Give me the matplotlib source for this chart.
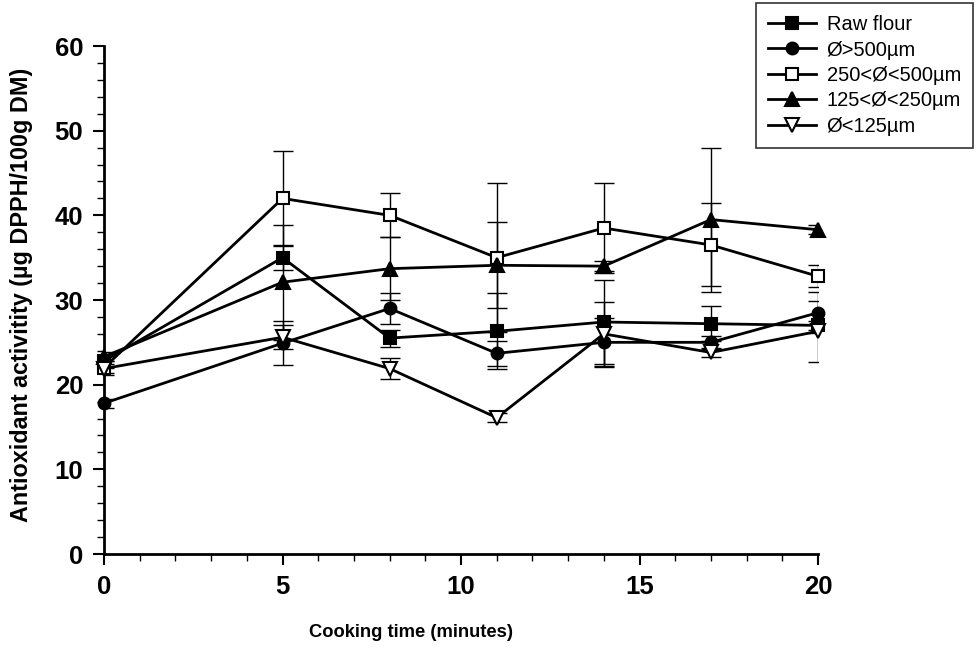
import numpy as np
import matplotlib
matplotlib.use('Agg')
import matplotlib.pyplot as plt
from matplotlib.ticker import MultipleLocator

plt.rcParams['font.family'] = ['Liberation Sans', 'DejaVu Sans']

# Cooking time (minutes)
time = [0, 5, 8, 11, 14, 17, 20]

# Antioxidant activity means and error bars per fraction
raw_flour = [22.8, 35.0, 25.5, 26.3, 27.4, 27.2, 27.0]
raw_flour_err = [0.8, 1.5, 1.0, 4.5, 5.0, 2.1, 0.5]

over_500 = [17.8, 24.9, 29.0, 23.7, 25.0, 25.0, 28.5]
over_500_err = [0.5, 2.6, 1.8, 1.5, 2.9, 0.8, 2.4]

r250_500 = [22.0, 42.0, 40.0, 35.0, 38.5, 36.5, 32.8]
r250_500_err = [0.8, 5.6, 2.6, 8.8, 5.3, 4.9, 1.3]

r125_250 = [23.3, 32.1, 33.7, 34.1, 34.0, 39.5, 38.3]
r125_250_err = [0.5, 6.8, 3.7, 5.1, 0.6, 8.5, 0.5]

under_125 = [21.9, 25.6, 21.9, 16.1, 26.0, 23.8, 26.3]
under_125_err = [0.5, 1.4, 1.2, 0.5, 3.8, 0.5, 3.6]

series = [
    (raw_flour, raw_flour_err, 's', 'black', 'Raw flour'),
    (over_500, over_500_err, 'o', 'black', 'Ø>500µm'),
    (r250_500, r250_500_err, 's', 'white', '250<Ø<500µm'),
    (r125_250, r125_250_err, '^', 'black', '125<Ø<250µm'),
    (under_125, under_125_err, 'v', 'white', 'Ø<125µm'),
]

fig = plt.figure(figsize=(9.76, 6.56), dpi=100)
ax = fig.add_axes([104/976, 1 - 554/656, (818 - 104)/976, (554 - 46)/656])

for vals, err, marker, face, label in series:
    ax.errorbar(time, vals, yerr=err, fmt='none', ecolor='black',
                elinewidth=1.0, capsize=7, capthick=1.0, zorder=2)
for vals, err, marker, face, label in series:
    ax.plot(time, vals, color='black', linewidth=2.0, marker=marker,
            markersize=8.5 if marker in ('o', 's') else 9.5,
            markerfacecolor=face, markeredgecolor='black',
            markeredgewidth=1.5, label=label, zorder=3, clip_on=False)

ax.set_xlim(0, 20)
ax.set_ylim(0, 60)
ax.xaxis.set_major_locator(MultipleLocator(5))
ax.xaxis.set_minor_locator(MultipleLocator(1))
ax.yaxis.set_major_locator(MultipleLocator(10))
ax.yaxis.set_minor_locator(MultipleLocator(2))

for side in ['top', 'right']:
    ax.spines[side].set_visible(False)
for side in ['left', 'bottom']:
    ax.spines[side].set_linewidth(2.0)

ax.tick_params(which='major', direction='out', length=8, width=1.5,
               labelsize=18.5, pad=7)
ax.tick_params(which='minor', direction='out', length=5, width=1.0)
for lbl in ax.get_xticklabels() + ax.get_yticklabels():
    lbl.set_fontweight('bold')

ax.set_xlabel('Cooking time (minutes)', fontsize=13.2, fontweight='bold')
ax.xaxis.set_label_coords(0.43, -0.137)
ax.set_ylabel('Antioxidant activitity (µg DPPH/100g DM)', fontsize=16.8,
              fontweight='bold')
ax.yaxis.set_label_coords(-0.099, 0.51)

leg = fig.legend(loc='upper right', bbox_to_anchor=(973/976, 1 - 3/656),
                 bbox_transform=fig.transFigure, fontsize=14.5, frameon=True,
                 fancybox=False, edgecolor='black', borderaxespad=0,
                 handlelength=2.4, handletextpad=0.5, labelspacing=0.32,
                 borderpad=0.6, markerscale=1.0)
leg.get_frame().set_linewidth(1.2)

fig.savefig('out.png', dpi=100)
